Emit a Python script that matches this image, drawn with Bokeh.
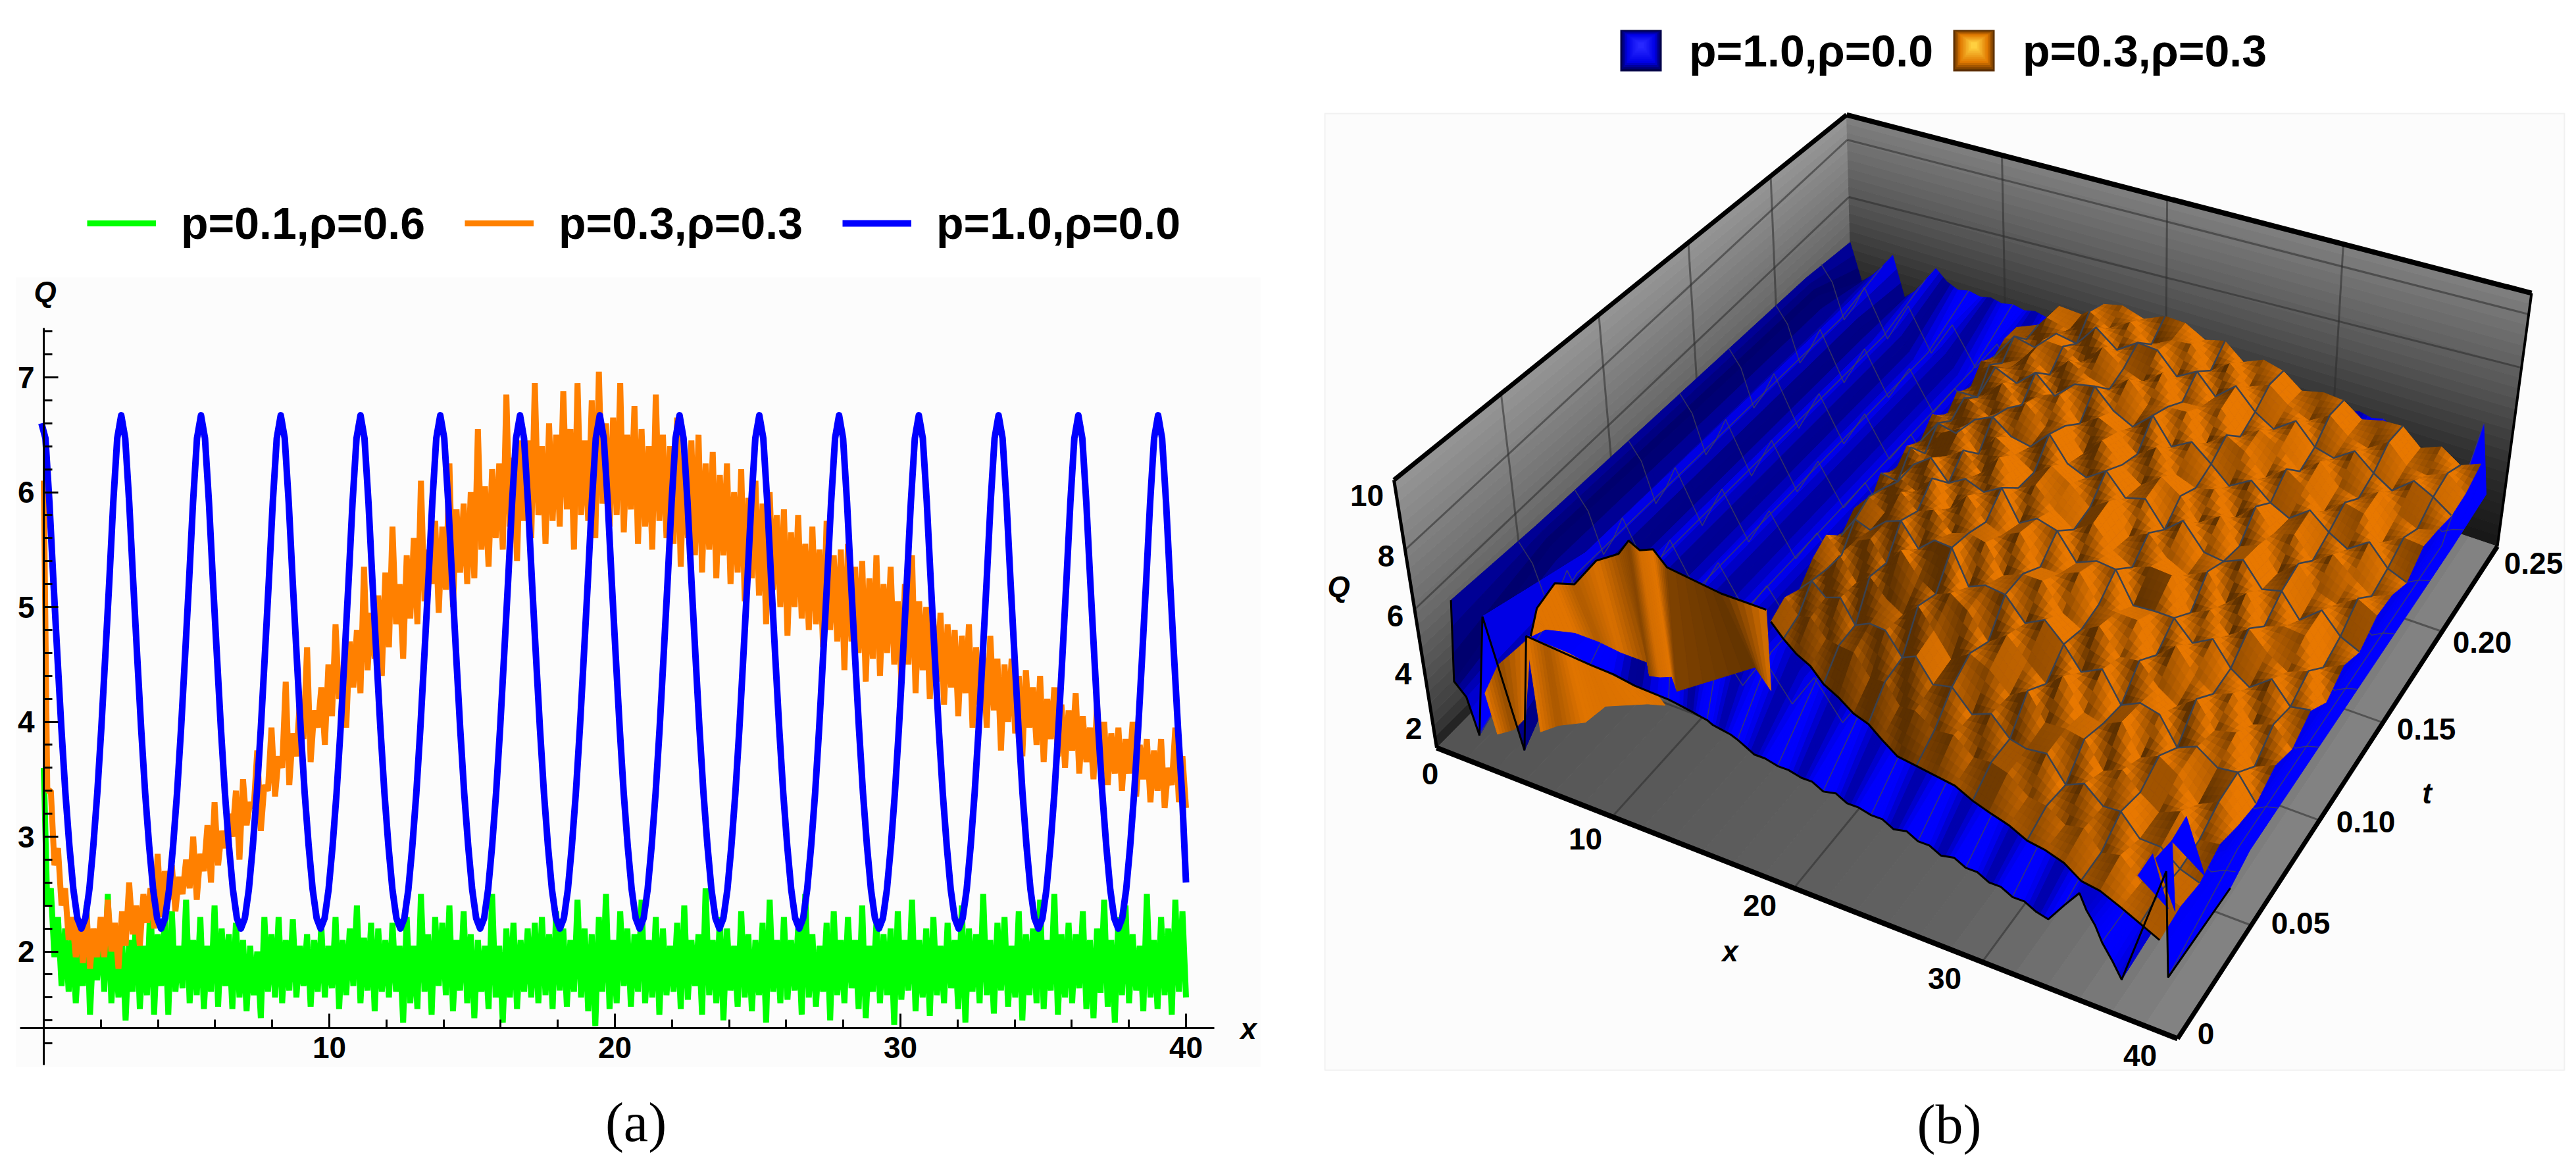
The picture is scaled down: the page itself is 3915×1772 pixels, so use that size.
import numpy as np
from bokeh.core.properties import value
from bokeh.embed import file_html
from bokeh.layouts import row
from bokeh.models import BoxAnnotation, FixedTicker, Legend, LegendItem, LinearAxis, Range1d
from bokeh.plotting import figure
from bokeh.resources import INLINE

# ---------------- panel (a) data ----------------
series_names = ["p=0.1,ρ=0.6", "p=0.3,ρ=0.3", "p=1.0,ρ=0.0"]
series_colors = ["#00ff00", "#ff8000", "#0000ff"]
x_major = [10, 20, 30, 40]
x_minor = [2, 4, 6, 8, 12, 14, 16, 18, 22, 24, 26, 28, 32, 34, 36, 38]
y_major = [2, 3, 4, 5, 6, 7]
y_minor = [1.2, 1.4, 1.6, 1.8, 2.2, 2.4, 2.6, 2.8, 3.2, 3.4, 3.6, 3.8, 4.2, 4.4, 4.6, 4.8, 5.2, 5.4, 5.6, 5.8,
           6.2, 6.4, 6.6, 6.8, 7.2, 7.4]

orange_hi = [6.10,3.40,2.90,2.55, 2.30,2.25,2.35,2.20, 2.30,2.45,2.25,2.35, 2.60,2.40,2.50,2.55,
             2.85,2.70,2.75,2.65, 2.80,3.00,2.85,3.10, 3.30,3.05,3.20,3.40, 3.50,3.30,3.75,3.45,
             3.95,3.70,4.35,3.90, 4.20,4.65,4.10,4.30, 4.50,4.85,4.40,4.70, 4.80,5.35,4.95,5.10,
             5.30,5.70,5.20,5.45, 5.60,6.10,5.50,5.75, 5.70,6.25,5.85,5.90, 6.00,6.55,6.05,6.20,
             6.25,6.85,6.30,6.45, 6.45,6.95,6.40,6.60, 6.50,6.88,6.55,6.95, 6.45,6.80,7.05,6.60,
             6.65,6.95,6.50,6.75, 6.55,6.40,6.85,6.50, 6.40,6.65,6.35,6.45, 6.50,6.25,6.35,6.15,
             6.25,6.00,6.20,5.95, 6.10,5.90,6.00,5.80, 5.85,5.65,5.80,5.55, 5.70,5.50,5.75,5.45,
             5.50,5.55,5.35,5.40, 5.25,5.45,5.20,5.35, 5.05,5.20,5.45,5.05, 5.00,4.90,4.95,4.85,
             4.80,4.75,4.85,4.65, 4.60,4.75,4.55,4.50, 4.55,4.40,4.45,4.30, 4.40,4.20,4.30,4.15,
             4.10,4.25,4.05,3.95, 4.15,4.00,3.90,3.95, 3.85,4.00,3.80,3.85, 3.75,3.85,3.60,3.95, 3.70]
orange_lo = [3.40,2.75,2.40,2.10, 1.95,1.90,1.85,1.95, 1.95,2.00,1.85,2.05, 2.15,2.05,2.25,2.20,
             2.30,2.45,2.35,2.50, 2.55,2.45,2.70,2.60, 2.75,2.90,3.00,2.80, 3.10,3.25,3.05,3.40,
             3.35,3.60,3.45,3.70, 3.85,3.65,3.95,3.80, 4.05,4.20,3.95,4.30, 4.25,4.45,4.55,4.40,
             4.65,4.85,4.55,4.90, 4.85,5.05,5.20,4.95, 5.15,5.00,5.30,5.20, 5.25,5.50,5.35,5.60,
             5.50,5.70,5.40,5.75, 5.60,5.80,5.55,5.75, 5.70,5.85,5.50,5.80, 5.75,5.60,5.90,5.70,
             5.80,5.65,5.85,5.55, 5.70,5.50,5.75,5.60, 5.55,5.35,5.60,5.45, 5.30,5.50,5.25,5.45,
             5.20,5.30,5.05,5.25, 5.10,4.85,5.15,5.00, 4.75,5.00,4.90,4.80, 4.85,4.65,4.80,4.70,
             4.45,4.70,4.60,4.35, 4.55,4.40,4.60,4.50, 4.35,4.50,4.25,4.45, 4.20,4.35,4.15,4.30,
             4.05,4.25,3.95,4.15, 3.95,4.10,3.75,4.00, 3.90,3.70,3.95,3.80, 3.65,3.85,3.70,3.60,
             3.75,3.55,3.65,3.50, 3.60,3.45,3.55,3.40, 3.55,3.35,3.50,3.30, 3.40,3.25,3.45,3.30, 3.25]
green_hi = [3.60,2.55,2.30,2.20, 2.15,2.05,2.40,2.10, 2.25,2.50,2.05,2.10, 2.10,2.35,2.05,2.45,
            2.15,2.30,2.35,2.05, 2.45,2.10,2.30,2.05, 2.40,2.20,2.15,2.25, 2.10,2.05,2.00,2.30,
            2.15,2.30,2.10,2.28, 2.05,2.15,2.10,2.22, 2.05,2.30,2.10,2.20, 2.40,2.12,2.25,2.20,
            2.10,2.25,2.05,2.30, 2.05,2.50,2.15,2.30, 2.25,2.40,2.10,2.35, 2.15,2.10,2.05,2.50,
            2.05,2.20,2.25,2.10, 2.20,2.25,2.30,2.15, 2.35,2.20,2.10,2.45, 2.20,2.15,2.30,2.50,
            2.10,2.35,2.20,2.15, 2.45,2.10,2.30,2.20, 2.05,2.25,2.40,2.10, 2.15,2.55,2.10,2.30,
            2.20,2.05,2.35,2.15, 2.10,2.25,2.45,2.10, 2.30,2.10,2.20,2.50, 2.15,2.05,2.25,2.35,
            2.10,2.30,2.10,2.40, 2.05,2.25,2.15,2.20, 2.35,2.10,2.45,2.10, 2.20,2.30,2.05,2.25,
            2.10,2.40,2.20,2.15, 2.50,2.10,2.25,2.30, 2.05,2.35,2.15,2.20, 2.45,2.10,2.50,2.15,
            2.25,2.15,2.35,2.10, 2.20,2.45,2.10,2.30, 2.40,2.15,2.05,2.50, 2.10,2.30,2.20,2.45, 2.35]
green_lo = [2.40,1.95,1.70,1.65, 1.55,1.70,1.45,1.75, 1.65,1.55,1.60,1.40, 1.65,1.50,1.62,1.45,
            1.70,1.45,1.65,1.68, 1.55,1.62,1.50,1.65, 1.52,1.70,1.50,1.60, 1.48,1.62,1.42,1.65,
            1.60,1.55,1.66,1.60, 1.70,1.52,1.65,1.60, 1.68,1.50,1.62,1.70, 1.55,1.66,1.48,1.65,
            1.60,1.65,1.38,1.55, 1.50,1.65,1.45,1.70, 1.62,1.48,1.66,1.55, 1.42,1.65,1.50,1.60,
            1.38,1.60,1.50,1.65, 1.60,1.55,1.62,1.50, 1.66,1.52,1.65,1.60, 1.48,1.35,1.65,1.50,
            1.55,1.70,1.52,1.65, 1.55,1.60,1.45,1.62, 1.65,1.50,1.58,1.70, 1.45,1.62,1.55,1.40,
            1.66,1.52,1.60,1.48, 1.62,1.38,1.65,1.55, 1.58,1.66,1.45,1.60, 1.52,1.65,1.40,1.62,
            1.55,1.68,1.50,1.42, 1.65,1.55,1.62,1.36, 1.58,1.66,1.48,1.60, 1.44,1.62,1.55,1.68,
            1.50,1.38,1.65,1.55, 1.62,1.46,1.66,1.52, 1.60,1.40,1.62,1.55, 1.50,1.66,1.45,1.60,
            1.55,1.68,1.50,1.42, 1.64,1.52,1.38,1.62, 1.55,1.66,1.48,1.60, 1.50,1.62,1.45,1.65, 1.60]
blue_q = [6.60,6.47,5.91,5.22,4.57,3.94,3.38,2.92,2.54,2.29,2.20,2.29,2.54,2.92,3.38,3.94,4.57,5.22,5.91,6.47,
          6.67,6.47,5.91,5.22,4.57,3.94,3.38,2.92,2.54,2.29,2.20,2.29,2.54,2.92,3.38,3.94,4.57,5.22,5.91,6.47,
          6.67,6.47,5.91,5.22,4.57,3.94,3.38,2.92,2.54,2.29,2.20,2.29,2.54,2.92,3.38,3.94,4.57,5.22,5.91,6.47,
          6.67,6.47,5.91,5.22,4.57,3.94,3.38,2.92,2.54,2.29,2.20,2.29,2.54,2.92,3.38,3.94,4.57,5.22,5.91,6.47,
          6.67,6.47,5.91,5.22,4.57,3.94,3.38,2.92,2.54,2.29,2.20,2.29,2.54,2.92,3.38,3.94,4.57,5.22,5.91,6.47,
          6.67,6.47,5.91,5.22,4.57,3.94,3.38,2.92,2.54,2.29,2.20,2.29,2.54,2.92,3.38,3.94,4.57,5.22,5.91,6.47,
          6.67,6.47,5.91,5.22,4.57,3.94,3.38,2.92,2.54,2.29,2.20,2.29,2.54,2.92,3.38,3.94,4.57,5.22,5.91,6.47,
          6.67,6.47,5.91,5.22,4.57,3.94,3.38,2.92,2.54,2.29,2.20,2.29,2.54,2.92,3.38,3.94,4.57,5.22,5.91,6.47,
          6.67,6.47,5.91,5.22,4.57,3.94,3.38,2.92,2.54,2.29,2.20,2.29,2.54,2.92,3.38,3.94,4.57,5.22,5.91,6.47,
          6.67,6.47,5.91,5.22,4.57,3.94,3.38,2.92,2.54,2.29,2.20,2.29,2.54,2.92,3.38,3.94,4.57,5.22,5.91,6.47,
          6.67,6.47,5.91,5.22,4.57,3.94,3.38,2.92,2.54,2.29,2.20,2.29,2.54,2.92,3.38,3.94,4.57,5.22,5.91,6.47,
          6.67,6.47,5.91,5.22,4.57,3.94,3.38,2.92,2.54,2.29,2.20,2.29,2.54,2.92,3.38,3.94,4.57,5.22,5.91,6.47,
          6.67,6.47,5.91,5.22,4.57,3.94,3.38,2.92,2.54,2.29,2.20,2.29,2.54,2.92,3.38,3.94,4.57,5.22,5.91,6.47,
          6.67,6.47,5.91,5.22,4.57,3.94,3.38,2.92,2.54,2.29,2.20,2.29,2.54,2.92,3.38,3.94,4.57,5.22,5.91,6.47,
          6.67,6.47,5.91,5.22,4.57,3.94,3.38,2.60]

# ---------------- panel (b) data ----------------
surface_names = ["p=1.0,ρ=0.0", "p=0.3,ρ=0.3"]
orange_x_front = [12.7,13.8,14.9,16.1,17.2,18.3,19.4,20.5,21.6,22.7,23.9,25,26.1,27.2,28.3,29.5,30.6,31.7,32.8,33.9,35,36.2,37.3,38.4]
orange_x_back = [12,13.3,14.6,15.9,17.1,18.3,19.5,20.7,21.9,23,24.1,25.2,26.3,27.4,28.5,29.7,30.8,31.9,33,34.1,35.2,36.3,37.4,38.5]
orange_t_front = [.067,.063,.059,.055,.051,.048,.045,.042,.038,.035,.033,.032,.031,.029,.026,.024,.022,.020,.018,.015,.013,.011,.009,.007]
orange_t_back = [.235,.236,.236,.237,.238,.238,.239,.24,.24,.241,.242,.242,.243,.244,.244,.245,.246,.246,.247,.248,.248,.249,.25,.25]
orange_q_front = [4.1,4.0,4.0,4.1,4.0,4.0,3.9,4.0,4.0,3.9,4.0,4.0,4.0,3.9,4.0,4.0,3.9,4.0,4.0,3.9,4.0,3.9,3.8,3.7]
orange_tfrac = [0,.053,.105,.158,.21,.263,.316,.368,.421,.474,.526,.579,.632,.684,.737,.79,.842,.895,.947,1]
orange_ramp = [.25,.45,.65,.8,.9,1,1,1,1,1,1,1,1,1,1,1,1,1,1]
orange_trend = [4.6,5.2,5.8,6.1,6.3,6.4,6.5,6.4,6.3,6.2,6.0,5.8,5.6,5.4,5.2,5.0,4.8,4.7,4.5,4.4,4.2,4.1,3.9,3.8]
orange_bump = [  # rows from front to back, in sixteenths of Q
 [4,-3,5,-6,2,7,-4,3,-5,6,-2,4,-7,3,5,-4,2,-6,4,-3,6,-5,2,3],
 [-5,6,-2,4,-7,2,6,-5,7,-2,5,-6,3,-4,-1,6,-5,4,-2,6,-4,1,-3,-2],
 [3,-2,7,-5,4,-3,-6,6,1,-7,4,2,-5,6,-3,2,5,-6,3,-1,-4,5,-2,4],
 [6,-6,1,5,-4,8,-2,-4,5,3,-6,5,-2,-6,7,-4,-2,6,-5,4,2,-6,4,-1],
 [-4,3,-5,2,6,-5,4,7,-6,2,5,-3,6,1,-5,5,-6,2,4,-6,3,-1,5,-4],
 [2,5,-7,6,-2,3,-6,1,4,-7,2,6,-4,-5,6,-2,4,-3,-5,6,-2,4,-6,2],
 [-6,1,4,-3,7,-6,5,-3,-2,6,-5,-1,7,-3,2,6,-5,7,-1,-4,5,-5,3,-3],
 [5,-4,2,7,-5,1,-3,6,-6,3,4,-6,2,5,-6,-1,3,-4,6,-3,-5,6,-1,4],
 [-3,7,-6,-1,4,-5,7,-4,5,-2,-6,5,-3,-5,4,7,-6,2,-4,6,1,-3,5,-5],
 [4,-5,3,6,-7,6,-1,-5,6,2,-4,7,-6,3,-2,-4,5,-6,7,-5,3,4,-6,2],
 [-2,4,-6,2,5,-3,-6,7,-3,-5,6,-2,4,-6,7,-3,-1,6,-3,2,-6,5,-2,-4],
 [6,-3,5,-5,1,7,-4,2,-7,6,-1,-5,6,2,-5,6,-4,3,-6,5,-2,-4,6,3],
 [-5,2,-1,6,-6,3,5,-6,4,1,-5,6,-3,-4,3,-6,7,-2,4,-5,6,-1,-5,2],
 [3,-6,7,-3,4,-7,2,6,-2,-6,7,-4,5,-1,-6,4,-2,-5,6,-1,-3,6,-2,-4],
 [-4,5,-2,5,-6,5,-3,-5,7,-3,2,6,-6,5,3,-5,6,1,-6,4,5,-6,3,4],
 [5,-2,-5,6,2,-6,6,-2,-4,6,-5,-1,4,-6,5,1,-6,5,-3,-5,6,-2,-4,1],
 [-1,6,-6,1,-5,7,-5,4,5,-6,3,-5,7,-2,-5,6,-3,-4,6,-2,-5,5,2,-3],
 [3,-4,4,-5,6,-2,3,-6,2,4,-6,5,-3,4,-1,-4,5,-2,-3,5,-2,-3,4,-2],
 [2,-3,3,-4,2,3,-4,2,3,-3,2,-4,3,2,-3,2,3,-3,2,3,-3,2,-3,3]]

blue_x = [0,.7,1.4,2.1,2.8,3.5,4.2,4.9,5.6,6.3,7,7.7,8.4,9.1,9.8,10.5,11.2,11.9,12.6,13.3,14,14.7,15.4,16.1,16.8,17.5,
          18.2,18.9,19.6,20.3,21,21.7,22.4,23.1,23.8,24.5,25.2,25.9,26.6,27.3,28,28.7,29.4,30.1,30.8,31.5,32.2,32.9,
          33.6,34.3,35,35.7,36.4,37.1,37.8,38.4,39.0]
blue_x_front = [0,.3,1.2,2.2,2.8,4.4,5,7,7.8,8.6,9.4,9.9,10.4,10.9,11.3,11.8,12.2,12.7,13.2,13.7,
                14,14.7,15.4,16.1,16.8,17.5,18.2,18.9,19.6,20.3,21,21.7,22.4,23.1,23.8,24.5,25.2,25.9,26.6,27.3,28,
                28.7,29.4,30.1,30.8,31.5,32.2,32.8,33.4,34.0,34.6,35.2,35.9,36.6,37.8,38.4,38.8]
blue_t_front = [.016,.01,.008,.004,.009,.007,.011,.023,.027,.03,.034,.035,.036,.037,.037,.037,.036,.036,.036,.035,
                .035,.034,.033,.033,.032,.032,.031,.03,.03,.029,.028,.028,.027,.026,.026,.025,.024,.023,.023,.022,.021,
                .02,.019,.018,.017,.016,.015,.018,.02,.017,.015,.012,.01,.007,.018,.014,.05]
blue_q_front = [5.3,3.0,2.8,2.0,5.8,1.8,5.5,4.2,3.8,3.4,3.0,2.9,2.75,2.6,2.55,2.5,2.5,2.45,2.4,2.4,
                2.3,2.2,2.3,2.2,2.3,2.2,2.3,2.2,2.3,2.2,2.3,2.2,2.3,2.2,2.3,2.2,2.3,2.2,2.3,2.2,2.3,
                2.2,2.3,2.2,2.3,2.2,2.2,2.6,3.0,2.8,2.6,2.4,2.1,1.9,5.0,1.9,2.3]
blue_q_mid = [5.2,4.6,3.2,3.9,4.8,3.9,3.0,3.8,4.6,3.8,3.0,3.7,4.4,3.7,3.0,3.6,4.2,3.6,3.0,3.6,4.2,3.6,3.0,3.6,4.2,3.6,
              3.0,3.6,4.2,3.6,3.0,3.6,4.2,3.6,3.0,3.6,4.2,3.6,3.0,3.6,4.2,3.6,3.0,3.6,4.2,3.6,3.0,3.6,
              3.2,3.0,2.6,2.9,3.2,2.9,2.6,2.8,2.9]
blue_q_back = [5.0,3.5,3.9,4.4,5.0,3.4,3.8,4.4,5.0,4.6,4.4,4.5,4.4,4.5,4.4,4.5,4.4,4.5,4.4,4.5,4.4,4.5,4.4,4.5,4.4,4.5,
               4.4,4.5,4.4,4.5,4.4,4.5,4.4,4.5,4.4,4.5,4.4,4.5,4.4,4.5,4.4,4.5,4.4,4.5,4.4,4.5,4.4,4.5,
               4.2,4.0,3.8,3.6,3.4,3.2,3.2,5.4,3.0]
blue_t_rows = [.06, .22, .25]
cliff_top_x = [.7,1.3,2.6,3.8,5.3,6.7,7.4,8.0,8.8,9.5,12.5,15.0]
cliff_top_t = [.045]*12
cliff_top_q = [2.37,3.48,4.62,4.84,5.97,6.5,7.1,6.9,7.1,6.64,6.4,6.4]
cliff_bot_x = [.8,.8,2.2,3.6,5,6.6,7.2,7.7,8.2,9,11.4,13]
cliff_bot_t = [.052,.052,.055,.055,.054,.054,.049,.05,.052,.047,.068,.061]
cliff_bot_q = [2.2]*12
cliff_tone = [.95,.95,.95,.6,.9,.45,.3,.85,.95,.25,.05,.9]
apron_top_x = [5,5.6,6.3,7,8.2,9.4]
apron_top_t = [.011,.015,.019,.023,.028,.034]
apron_top_q = [5.5,5.1,4.7,4.2,3.6,3.0]
apron_bot_x = [4.6,5.1,6.1,6.3,8,8.8]
apron_bot_t = [.014,.019,.024,.033,.04,.042]
apron_bot_q = [2.0]*6
apron_tone = [.95,.55,.95,.9,.95,.9]
foot_top_x = [2.1,2.6,.7]
foot_top_t = [.01,.014,.045]
foot_top_q = [3.0,3.8,2.37]
foot_bot_x = [2.9,3.4,3.4]
foot_bot_t = [.007,.011,.017]
foot_bot_q = [2.0]*3
foot_tone = [.95,.4,.95]
spike_x = [[37.2,36.6,37.9],[37.8,37.2,38.1],[38,37.5,38.7]]
spike_t = [[.017,.016,.019],[.021,.019,.021],[.027,.025,.032]]
spike_q = [[5.5,4.7,3.7],[5.8,5.2,3.5],[6.2,5.4,4.0]]
q_ticks = [2, 4, 6, 8, 10]
x3_ticks = [0, 10, 20, 30, 40]
t_ticks = ["0", "0.05", "0.10", "0.15", "0.20", "0.25"]

# ---------------- panel (a) ----------------
FONT = value("Liberation Sans")
def ax(px): return (px - 66) / 43.4
def ay(py): return 7 - (py - 573) / 174.5

pa = figure(width=1990, height=1756, x_range=Range1d(ax(0), ax(1990)), y_range=Range1d(ay(1756), ay(0)),
            x_axis_type=None, y_axis_type=None, toolbar_location=None, output_backend="svg",
            min_border=0, outline_line_color=None, background_fill_color="white", border_fill_color="white")
pa.add_layout(BoxAnnotation(left=ax(24), right=ax(1915), top=ay(421), bottom=ay(1621),
                            fill_color="#fcfcfc", fill_alpha=1, line_alpha=0, level="underlay"))

def zigzag(hi, lo):
    y = []
    for a, b in zip(hi, lo):
        y += [a, b]
    return np.linspace(0, 40, len(y)), y

gx, gy = zigzag(green_hi, green_lo)
ox, oy = zigzag(orange_hi, orange_lo)
bx = np.linspace(-0.08, 40, len(blue_q))
r_g = pa.line(gx, gy, line_color=series_colors[0], line_width=9, line_join="bevel")
r_o = pa.line(ox, oy, line_color=series_colors[1], line_width=9, line_join="bevel")
r_b = pa.line(bx, blue_q, line_color=series_colors[2], line_width=10, line_join="round")

yaxis = LinearAxis(fixed_location=0, bounds=(1.01, 7.43), ticker=FixedTicker(ticks=y_major, minor_ticks=y_minor))
xaxis = LinearAxis(fixed_location=1.335, bounds=(-0.83, 41.0), ticker=FixedTicker(ticks=x_major, minor_ticks=x_minor))
for a in (xaxis, yaxis):
    a.axis_line_color = "black"; a.axis_line_width = 3
    a.major_tick_line_color = "black"; a.major_tick_line_width = 3
    a.minor_tick_line_color = "black"; a.minor_tick_line_width = 3
    a.major_tick_in = 22; a.major_tick_out = 0
    a.minor_tick_in = 13; a.minor_tick_out = 0
    a.major_label_text_font = "Liberation Sans"; a.major_label_text_font_style = "bold"
    a.major_label_text_color = "black"
    a.major_label_text_font_size = "46px"; a.major_label_standoff = 14
pa.add_layout(yaxis, "left")
pa.add_layout(xaxis, "below")
pa.text(x=[ax(68), ax(1897)], y=[ay(443), ay(1563)], text=["Q", "x"], text_font=FONT, text_font_style="bold italic",
        text_font_size="44px", text_align="center", text_baseline="middle", text_color="black")
pa.text(x=[ax(966)], y=[ay(1705)], text=["(a)"], text_font=value("Liberation Serif"), text_font_size="84px",
        text_align="center", text_baseline="middle", text_color="black")
leg_a = Legend(items=[LegendItem(label=n, renderers=[r]) for n, r in zip(series_names, (r_g, r_o, r_b))],
               orientation="horizontal", location=(132, 1378), background_fill_alpha=0, border_line_alpha=0,
               padding=0, margin=0, spacing=60, label_standoff=38, glyph_width=105, glyph_height=60,
               label_text_font="Liberation Sans", label_text_font_style="bold", label_text_font_size="68px",
               label_text_color="black")
pa.add_layout(leg_a)

# ---------------- panel (b) ----------------
pb = figure(width=1909, height=1756, x_range=Range1d(1990, 3899), y_range=Range1d(1756, 0),
            x_axis_type=None, y_axis_type=None, toolbar_location=None, output_backend="svg",
            min_border=0, outline_line_color=None, background_fill_color="white", border_fill_color="white")
pb.add_layout(BoxAnnotation(left=2013, right=3897, top=172, bottom=1626, fill_color="#fcfcfc", fill_alpha=1,
                            line_color="#d8d8d8", line_width=2, level="underlay"))

def homography(q):
    (x0, y0), (x1, y1), (x2, y2), (x3, y3) = q
    dx1, dx2, sx = x1 - x2, x3 - x2, x0 - x1 + x2 - x3
    dy1, dy2, sy = y1 - y2, y3 - y2, y0 - y1 + y2 - y3
    den = dx1 * dy2 - dx2 * dy1
    g, h = (sx * dy2 - dx2 * sy) / den, (dx1 * sy - sx * dy1) / den
    m = (x1 - x0 + g * x1, x3 - x0 + h * x3, x0, y1 - y0 + g * y1, y3 - y0 + h * y3, y0, g, h)
    def f(u, v):
        w = m[6] * u + m[7] * v + 1
        return (m[0] * u + m[1] * v + m[2]) / w, (m[3] * u + m[4] * v + m[5]) / w
    return f

FLOOR = homography([(2183, 1136), (3309, 1578), (3795, 830), (2815, 500)])
ROOF = homography([(2118, 729), (3332, 1174), (3847, 445), (2806, 174)])
QMIN, QMAX = 1.35, 10.35
NADIR = np.array([3034.0, 6464.0])
ORANGE_DARK, ORANGE_BRIGHT = (92, 48, 0), (232, 120, 0)
BLUE_DARK, BLUE_BRIGHT = (0, 0, 100), (0, 0, 255)

def project(x, t, q):
    u, v = np.asarray(x, float) / 40.0, np.asarray(t, float) / 0.25
    w = (np.asarray(q, float) - QMIN) / (QMAX - QMIN)
    fx, fy = FLOOR(u, v)
    rx, ry = ROOF(u, v)
    return fx + (rx - fx) * w, fy + (ry - fy) * w

def gray(g):
    g = int(round(g))
    return f"#{g:02x}{g:02x}{g:02x}"

def lerp_rgb(a, b, s):
    s = min(max(s, 0), 1)
    return "#%02x%02x%02x" % tuple(int(round(a[i] + (b[i] - a[i]) * s)) for i in range(3))

def draw_polys(polys):
    pb.patches(xs=[p[0] for p in polys], ys=[p[1] for p in polys],
               fill_color=[p[2] for p in polys], line_color=[p[2] for p in polys], line_width=1)

# walls and floor
wall_polys = []
N = 24
for k in range(N):
    a, b = k / N, (k + 1) / N
    qa, qb = QMIN + a * 9, QMIN + b * 9
    g = np.interp((a + b) / 2, [0, .08, .5, 1], [28, 60, 108, 150])
    xa, ya = project([0, 0, 0, 0], [0, .25, .25, 0], [qa, qa, qb, qb])
    wall_polys.append((list(xa), list(ya), gray(g)))
    g = np.interp((a + b) / 2, [0, .3, .6, 1], [22, 45, 85, 128])
    xa, ya = project([0, 40, 40, 0], [.25, .25, .25, .25], [qa, qa, qb, qb])
    wall_polys.append((list(xa), list(ya), gray(g)))
    ua, ub = a * 40, b * 40
    g = np.interp((a + b) / 2, [0, .7, 1], [84, 98, 132])
    xa, ya = project([ua, ub, ub, ua], [0, 0, .25, .25], [QMIN] * 4)
    wall_polys.append((list(xa), list(ya), gray(g)))
draw_polys(wall_polys)

grid_x, grid_y = [], []
def add_line(xs, ts, qs):
    a, b = project(xs, ts, qs)
    grid_x.append(list(a)); grid_y.append(list(b))
for x in x3_ticks[1:-1]:
    add_line([x, x], [0, .25], [QMIN, QMIN])
    add_line([x, x], [.25, .25], [QMIN, QMAX])
for t in [.05, .10, .15, .20]:
    add_line([0, 40], [t, t], [QMIN, QMIN])
    add_line([0, 0], [t, t], [QMIN, QMAX])
add_line([0, 0], [0, .25], [8, 9.3])
add_line([0, 0], [0, .25], [6, 6.9])
add_line([0, 40], [.25, .25], [9.3, 9.6])
add_line([0, 40], [.25, .25], [6.9, 7.7])
pb.multi_line(grid_x, grid_y, line_color="#2c2c2c", line_alpha=.55, line_width=3)

def surface(xg, tg, qg, dark, bright, sub, shade=None, base=.55, kx=0., kt=0.):
    polys = []
    ny, nx = qg.shape
    fr = np.linspace(0, 1, sub + 1)
    def bil(g, j, i, a, b):
        return (g[j, i] * (1 - a) * (1 - b) + g[j, i + 1] * a * (1 - b) + g[j + 1, i] * (1 - a) * b + g[j + 1, i + 1] * a * b)
    for j in range(ny - 1):
        for i in range(nx - 1):
            fx, fy = project(bil(xg, j, i, .5, .5), bil(tg, j, i, .5, .5), QMIN)
            depth = float(np.hypot(fx - NADIR[0], fy - NADIR[1]))
            for sa in range(sub):
                for sb in range(sub):
                    corners = [(fr[sa], fr[sb]), (fr[sa + 1], fr[sb]), (fr[sa + 1], fr[sb + 1]), (fr[sa], fr[sb + 1])]
                    px, py = [], []
                    for a, b in corners:
                        X, Y = project(bil(xg, j, i, a, b), bil(tg, j, i, a, b), bil(qg, j, i, a, b))
                        px.append(float(X)); py.append(float(Y))
                    ma, mb = (fr[sa] + fr[sa + 1]) / 2, (fr[sb] + fr[sb + 1]) / 2
                    if shade is not None:
                        s = bil(shade, j, i, ma, mb)
                    else:
                        da = (qg[j, i + 1] - qg[j, i]) * (1 - mb) + (qg[j + 1, i + 1] - qg[j + 1, i]) * mb
                        db = (qg[j + 1, i] - qg[j, i]) * (1 - ma) + (qg[j + 1, i + 1] - qg[j, i + 1]) * ma
                        s = base + kx * da + kt * db
                    polys.append((depth, px, py, lerp_rgb(dark, bright, s)))
    polys.sort(key=lambda r: -r[0])
    return [(p[1], p[2], p[3]) for p in polys]

def ribbon(tx, tt, tq, bx_, bt, bq, tone, black_top=True):
    polys = []
    for k in range(len(tx) - 1):
        for s in range(6):
            f0, f1 = s / 6, (s + 1) / 6
            mix = lambda arr, f: arr[k] + (arr[k + 1] - arr[k]) * f
            xs3 = [mix(tx, f0), mix(tx, f1), mix(bx_, f1), mix(bx_, f0)]
            ts3 = [mix(tt, f0), mix(tt, f1), mix(bt, f1), mix(bt, f0)]
            qs3 = [mix(tq, f0), mix(tq, f1), mix(bq, f1), mix(bq, f0)]
            a, b = project(xs3, ts3, qs3)
            polys.append((list(a), list(b), lerp_rgb(ORANGE_DARK, ORANGE_BRIGHT, mix(tone, (f0 + f1) / 2))))
    draw_polys(polys)
    if black_top:
        a, b = project(tx, tt, tq)
        pb.line(list(a), list(b), line_color="black", line_width=3)

# blue surface
bxs = np.array(blue_x, float)
bxg = np.array([blue_x_front, bxs, bxs, bxs], float)
btg = np.array([blue_t_front] + [[t] * len(bxs) for t in blue_t_rows], float)
bqg = np.array([blue_q_front, blue_q_mid, blue_q_mid, blue_q_back], float)
bslope = np.gradient(np.array(blue_q_mid, float))
bshade = np.tile(np.clip(.98 + 1.0 * bslope, 0, 1), (4, 1))
draw_polys(surface(bxg, btg, bqg, BLUE_DARK, BLUE_BRIGHT, 3, shade=bshade))
mx, my = [], []
for i in range(3, len(blue_x), 4):
    a, b = project(bxg[:, i], btg[:, i], bqg[:, i] + .02)
    mx.append(list(a)); my.append(list(b))
for t in (.05, .08, .11, .14, .17, .20, .23):
    a, b = project(bxs, [t] * len(bxs), np.array(blue_q_mid))
    mx.append(list(a)); my.append(list(b))
pb.multi_line(mx, my, line_color="#40405a", line_alpha=.8, line_width=1.5)

# orange cliff at small x
ribbon(foot_top_x, foot_top_t, foot_top_q, foot_bot_x, foot_bot_t, foot_bot_q, foot_tone, black_top=False)
ribbon(cliff_top_x, cliff_top_t, cliff_top_q, cliff_bot_x, cliff_bot_t, cliff_bot_q, cliff_tone)
ribbon(apron_top_x, apron_top_t, apron_top_q, apron_bot_x, apron_bot_t, apron_bot_q, apron_tone, black_top=False)

# orange surface
ofr = np.array(orange_tfrac, float)
oxf, oxb = np.array(orange_x_front), np.array(orange_x_back)
otf, otb = np.array(orange_t_front), np.array(orange_t_back)
oxg = np.array([oxf + f * (oxb - oxf) for f in ofr])
otg = np.array([otf + f * (otb - otf) for f in ofr])
otr, oqf = np.array(orange_trend), np.array(orange_q_front)
oqg = np.array([oqf] + [oqf + rp * (otr - oqf) + min(1, rp + .3) * np.array(r) / 16 for rp, r in zip(orange_ramp, orange_bump)], float)
draw_polys(surface(oxg, otg, oqg, ORANGE_DARK, ORANGE_BRIGHT, 4, base=.58, kx=-.75, kt=-.75))
mx, my = [], []
for i in range(1, len(oxf), 3):
    a, b = project(oxg[:, i], otg[:, i], oqg[:, i] + .02)
    mx.append(list(a)); my.append(list(b))
for j in range(2, len(ofr) - 1, 3):
    a, b = project(oxg[j], otg[j], oqg[j] + .02)
    mx.append(list(a)); my.append(list(b))
pb.multi_line(mx, my, line_color="#3a4250", line_width=2.5)
a, b = project(oxg[0], otg[0], oqg[0])
pb.line(list(a), list(b), line_color="black", line_width=3)

# blue teeth standing in front of the orange sheet, and the front edge of the blue sheet
for sx_, st, sq in zip(spike_x, spike_t, spike_q):
    a, b = project(sx_, st, sq)
    pb.patch(list(a), list(b), fill_color="#0000ff", line_color="#0000ff", line_width=1)
a, b = project(blue_x_front, blue_t_front, blue_q_front)
pb.line(list(a), list(b), line_color="black", line_width=3)

# box edges
ex, ey, ew = [], [], []
def edge(x, t, q, w):
    a, b = project(x, t, q)
    ex.append(list(a)); ey.append(list(b)); ew.append(w)
edge([0, 40], [0, 0], [QMIN, QMIN], 8)
edge([40, 40], [0, .25], [QMIN, QMIN], 7)
edge([0, 0], [0, 0], [QMIN, QMAX], 5)
edge([0, 0], [0, .25], [QMAX, QMAX], 7)
edge([0, 40], [.25, .25], [QMAX, QMAX], 8)
edge([40, 40], [.25, .25], [QMIN, QMAX], 4)
pb.multi_line(ex, ey, line_color="black", line_width=ew)

# tick labels of the box
LABEL_FONT = dict(text_font=FONT, text_font_style="bold", text_font_size="46px", text_align="center",
                  text_baseline="middle", text_color="black")
pb.text(x=[2148, 2132, 2120, 2106, 2077], y=[1106, 1023, 935, 844, 752], text=[str(v) for v in q_ticks], **LABEL_FONT)
pb.text(x=[2173, 2409, 2674, 2955, 3252], y=[1175, 1274, 1375, 1486, 1603], text=[str(v) for v in x3_ticks], **LABEL_FONT)
pb.text(x=[3352, 3496, 3595, 3687, 3772, 3850], y=[1570, 1402, 1248, 1107, 975, 855], text=t_ticks, **LABEL_FONT)
pb.text(x=[2034, 2629, 3688], y=[891, 1445, 1205], text=["Q", "x", "t"], text_font=FONT, text_font_style="bold italic",
        text_font_size="44px", text_align="center", text_baseline="middle", text_color="black")
pb.text(x=[2962], y=[1708], text=["(b)"], text_font=value("Liberation Serif"), text_font_size="84px",
        text_align="center", text_baseline="middle", text_color="black")

# legend of panel (b)
key_b = pb.quad(left=[], right=[], top=[], bottom=[], fill_color="#0000e0", line_color="#00004a")
key_o = pb.quad(left=[], right=[], top=[], bottom=[], fill_color="#e07800", line_color="#5e3000")
leg_b = Legend(items=[LegendItem(label=surface_names[0], renderers=[key_b]), LegendItem(label=surface_names[1], renderers=[key_o])],
               orientation="horizontal", location=(472, 1640), background_fill_alpha=0, border_line_alpha=0,
               padding=0, margin=0, spacing=31, label_standoff=26, glyph_width=79, glyph_height=79,
               label_text_font="Liberation Sans", label_text_font_style="bold", label_text_font_size="68px",
               label_text_color="black")
pb.add_layout(leg_b)
for cx, stops in ((2493.5, [(0, 0, 74), (0, 0, 230), (40, 40, 255)]), (2999.5, [(94, 48, 0), (224, 120, 0), (255, 208, 64)])):
    for k in range(12):
        f = k / 11
        half = 31.5 * (1 - f * .85)
        col = lerp_rgb(stops[0], stops[1], f / .35) if f < .35 else lerp_rgb(stops[1], stops[2], (f - .35) / .65)
        pb.quad(left=[cx - half], right=[cx + half], top=[76.5 - half - f * 8], bottom=[76.5 + half - f * 8],
                fill_color=col, line_color=None, level="overlay")

layout = row(pa, pb, spacing=0)
open("out.html", "w").write(file_html(layout, INLINE))
